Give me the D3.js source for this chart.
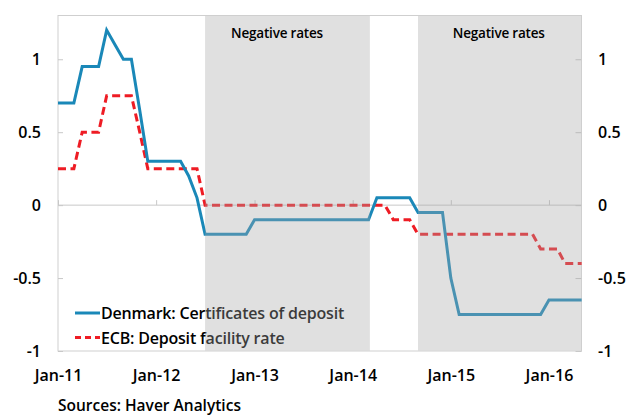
<!DOCTYPE html>
<html lang="en">
<head>
    <meta charset="UTF-8">
    <title>Denmark vs ECB</title>
    <style>
        body {
            margin: 0;
            background: #fff;
        }
        text {
            font-family: "Open Sans", sans-serif;
            font-weight: 600;
        }
    </style>
</head>
<body>
    <script src="https://cdnjs.cloudflare.com/ajax/libs/d3/7.8.5/d3.min.js"></script>
    <script>
        const chartW = 629
        const chartH = 416

        // monthly, Jan-11 .. May-16
        const startMonth = '2011-01'
        const denmark = [
            0.7, 0.7, 0.7, 0.95, 0.95, 0.95, 1.2, 1.1, 1.0, 1.0, 0.65, 0.3,
            0.3, 0.3, 0.3, 0.3, 0.2, 0.05, -0.2, -0.2, -0.2, -0.2, -0.2, -0.2,
            -0.1, -0.1, -0.1, -0.1, -0.1, -0.1, -0.1, -0.1, -0.1, -0.1, -0.1, -0.1,
            -0.1, -0.1, -0.1, 0.05, 0.05, 0.05, 0.05, 0.05, -0.05, -0.05, -0.05, -0.05,
            -0.5, -0.75, -0.75, -0.75, -0.75, -0.75, -0.75, -0.75, -0.75, -0.75, -0.75, -0.75,
            -0.65, -0.65, -0.65, -0.65, -0.65
        ]
        const ecb = [
            0.25, 0.25, 0.25, 0.5, 0.5, 0.5, 0.75, 0.75, 0.75, 0.75, 0.5, 0.25,
            0.25, 0.25, 0.25, 0.25, 0.25, 0.25, 0, 0, 0, 0, 0, 0,
            0, 0, 0, 0, 0, 0, 0, 0, 0, 0, 0, 0,
            0, 0, 0, 0, 0, -0.1, -0.1, -0.1, -0.2, -0.2, -0.2, -0.2,
            -0.2, -0.2, -0.2, -0.2, -0.2, -0.2, -0.2, -0.2, -0.2, -0.2, -0.2, -0.3,
            -0.3, -0.3, -0.4, -0.4, -0.4
        ]
        const seriesNames = ['Denmark: Certificates of deposit', 'ECB: Deposit facility rate']
        const yTicks = [1, 0.5, 0, -0.5, -1]
        const yTickLabels = ['1', '0.5', '0', '-0.5', '-1']
        const xTicks = ['2011-01', '2012-01', '2013-01', '2014-01', '2015-01', '2016-01']
        const negPeriods = [['2012-07-01', '2014-03-06'], ['2014-09-01', '2016-05-01']]
        const shadeLabel = 'Negative rates'
        const source = 'Sources: Haver Analytics'

        const parseMonth = d3.timeParse('%Y-%m')
        const parseDay = d3.timeParse('%Y-%m-%d')
        const t0 = parseMonth(startMonth)
        const months = denmark.map((d, i) => d3.timeMonth.offset(t0, i))

        const plotL = 58, plotR = 581.5, plotT = 15.5, plotB = 351

        const x = d3.scaleTime()
            .domain([months[0], months[months.length - 1]])
            .range([plotL, plotR])

        const y = d3.scaleLinear()
            .domain([-1, 1.3])
            .range([plotB, plotT])

        const svg = d3.select('body')
            .append('svg')
            .attr('width', chartW)
            .attr('height', chartH)

        // plot frame
        svg.append('rect')
            .attr('x', plotL)
            .attr('y', plotT)
            .attr('width', plotR - plotL)
            .attr('height', plotB - plotT)
            .attr('fill', '#fff')
            .attr('stroke', '#cfcfcf')
            .attr('stroke-width', 1)

        // zero line with small ticks pointing up
        const zeroAxis = svg.append('g')
            .attr('transform', `translate(0, ${y(0)})`)
            .call(d3.axisTop(x)
                .tickValues(xTicks.map(parseMonth))
                .tickSize(5)
                .tickFormat(''))
        zeroAxis.select('.domain').remove()
        zeroAxis.selectAll('line').attr('stroke', '#c8c8c8')
        svg.append('line')
            .attr('x1', plotL).attr('x2', plotR)
            .attr('y1', y(0)).attr('y2', y(0))
            .attr('stroke', '#c8c8c8')

        // y axes
        const yLeft = svg.append('g')
            .attr('transform', `translate(${plotL}, 0)`)
            .call(d3.axisLeft(y)
                .tickValues(yTicks)
                .tickSize(-5)
                .tickPadding(17)
                .tickFormat((d, i) => yTickLabels[i]))
        const yRight = svg.append('g')
            .attr('transform', `translate(${plotR}, 0)`)
            .call(d3.axisRight(y)
                .tickValues(yTicks)
                .tickSize(-6)
                .tickPadding(16.5)
                .tickFormat((d, i) => yTickLabels[i]))

        // x labels at the bottom
        const xAxis = svg.append('g')
            .attr('transform', `translate(0, ${plotB})`)
            .call(d3.axisBottom(x)
                .tickValues(xTicks.map(parseMonth))
                .tickSize(0)
                .tickPadding(19)
                .tickFormat(d3.timeFormat('%b-%y')))

        ;[yLeft, yRight, xAxis].forEach(g => {
            g.select('.domain').remove()
            g.selectAll('line').attr('stroke', '#c8c8c8')
            g.selectAll('text')
                .attr('font-size', 16)
                .attr('font-family', '"Open Sans", sans-serif')
                .attr('fill', '#000')
        })

        // lines
        const line = d3.line()
            .x((d, i) => x(months[i]))
            .y(d => y(d))

        svg.append('path')
            .datum(ecb)
            .attr('d', line)
            .attr('fill', 'none')
            .attr('stroke', '#ee1c24')
            .attr('stroke-width', 3)
            .attr('stroke-dasharray', '8,4.5')

        svg.append('path')
            .datum(denmark)
            .attr('d', line)
            .attr('fill', 'none')
            .attr('stroke', '#1a88b8')
            .attr('stroke-width', 3)

        // legend
        const legend = svg.append('g')
            .attr('transform', 'translate(75, 313)')
        const legendItems = [
            { name: seriesNames[0], color: '#1a88b8', dash: null },
            { name: seriesNames[1], color: '#ee1c24', dash: '6,4' }
        ]
        legendItems.forEach((d, i) => {
            legend.append('line')
                .attr('x1', 0).attr('x2', 25)
                .attr('y1', i * 24.5).attr('y2', i * 24.5)
                .attr('stroke', d.color)
                .attr('stroke-width', 3)
                .attr('stroke-dasharray', d.dash)
            legend.append('text')
                .attr('x', 26)
                .attr('y', i * 24.5 + 6)
                .attr('font-size', 16)
                .attr('letter-spacing', -0.2)
                .attr('fill', '#000')
                .text(d.name)
        })

        // shaded periods drawn over the lines
        svg.append('g')
            .selectAll('rect')
            .data(negPeriods)
            .enter()
            .append('rect')
            .attr('x', d => x(parseDay(d[0])))
            .attr('y', plotT + 0.5)
            .attr('width', d => Math.min(x(parseDay(d[1])), plotR - 0.5) - x(parseDay(d[0])))
            .attr('height', plotB - plotT - 1)
            .attr('fill', 'rgb(165,165,165)')
            .attr('fill-opacity', 0.35)

        svg.append('g')
            .selectAll('text')
            .data(negPeriods)
            .enter()
            .append('text')
            .attr('x', (d, i) => i === 0 ? 277 : (x(parseDay(d[0])) + Math.min(x(parseDay(d[1])), plotR)) / 2 - 1)
            .attr('y', 38)
            .attr('text-anchor', 'middle')
            .attr('font-size', 13.5)
            .attr('letter-spacing', -0.2)
            .attr('fill', '#000')
            .text(shadeLabel)

        svg.append('text')
            .attr('x', 58)
            .attr('y', 411)
            .attr('font-size', 15.5)
            .attr('fill', '#000')
            .text(source)
    </script>
</body>
</html>
